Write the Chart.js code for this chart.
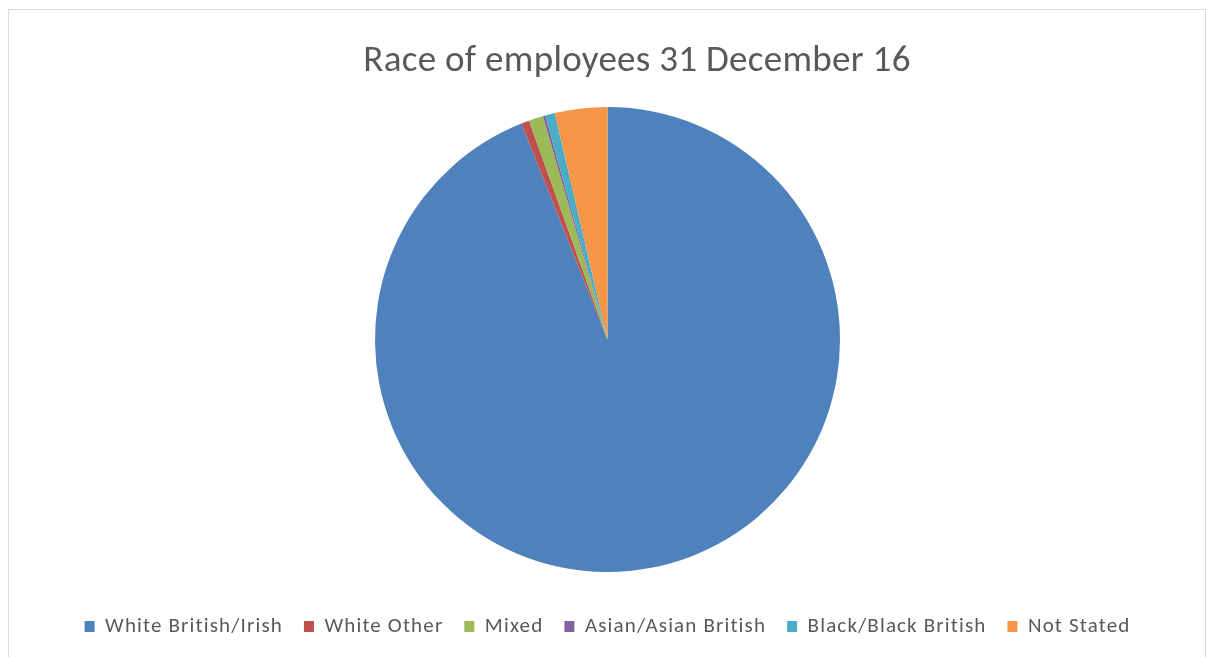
<!DOCTYPE html>
<html>
<head>
<meta charset="utf-8">
<script src="https://cdn.jsdelivr.net/npm/chart.js@4/dist/chart.umd.min.js"></script>
<style>
  html, body { margin: 0; padding: 0; background: #ffffff; }
  #frame {
    position: absolute; left: 8px; top: 9px; width: 1198px; height: 660px;
    border: 1px solid #d9d9d9; box-sizing: border-box; background: #fff;
  }
  #wrap { position: absolute; left: 0; top: 0; width: 1209px; height: 657px; }
</style>
</head>
<body>
<div id="frame"></div>
<div id="wrap"><canvas id="c" width="1209" height="657"></canvas></div>
<script>
// Share of employees by race, 31 December 2016 (percent)
const categories = ['White British/Irish', 'White Other', 'Mixed', 'Asian/Asian British', 'Black/Black British', 'Not Stated'];
const shares = [93.96, 0.56, 1.0, 0.17, 0.67, 3.64];
const colours = ['#4F81BD', '#C0504D', '#9BBB59', '#8064A2', '#4BACC6', '#F79646'];
const titleText = 'Race of employees 31 December 16';

const fontFamily = "Carlito, Calibri, 'Open Sans', 'Liberation Sans', sans-serif";
const textColour = '#595959';

// Slightly open letter spacing for the legend text (measured and drawn alike)
const spacingPlugin = {
  id: 'spacing',
  beforeLayout(chart) { chart.ctx.letterSpacing = '1.15px'; },
  beforeDraw(chart) { chart.ctx.letterSpacing = '1.15px'; }
};

// Chart title, placed a little right of the pie's centre line
const titlePlugin = {
  id: 'chartTitle',
  afterDraw(chart) {
    const ctx = chart.ctx;
    ctx.save();
    ctx.letterSpacing = '0.3px';
    ctx.font = `37px ${fontFamily}`;
    ctx.fillStyle = textColour;
    ctx.textAlign = 'center';
    ctx.textBaseline = 'middle';
    ctx.fillText(titleText, 637, 62);
    ctx.restore();
  }
};

new Chart(document.getElementById('c'), {
  type: 'pie',
  data: {
    labels: categories,
    datasets: [{
      data: shares,
      backgroundColor: colours,
      borderWidth: 0,
      radius: 232.5
    }]
  },
  plugins: [spacingPlugin, titlePlugin],
  options: {
    responsive: false,
    animation: false,
    layout: { padding: { top: 84, bottom: 10, left: 6, right: 0 } },
    plugins: {
      tooltip: { enabled: false },
      title: { display: false },
      legend: {
        position: 'bottom',
        labels: {
          color: textColour,
          font: { family: fontFamily, size: 21 },
          boxWidth: 10,
          boxHeight: 11,
          padding: 21
        }
      }
    }
  }
});
</script>
</body>
</html>
